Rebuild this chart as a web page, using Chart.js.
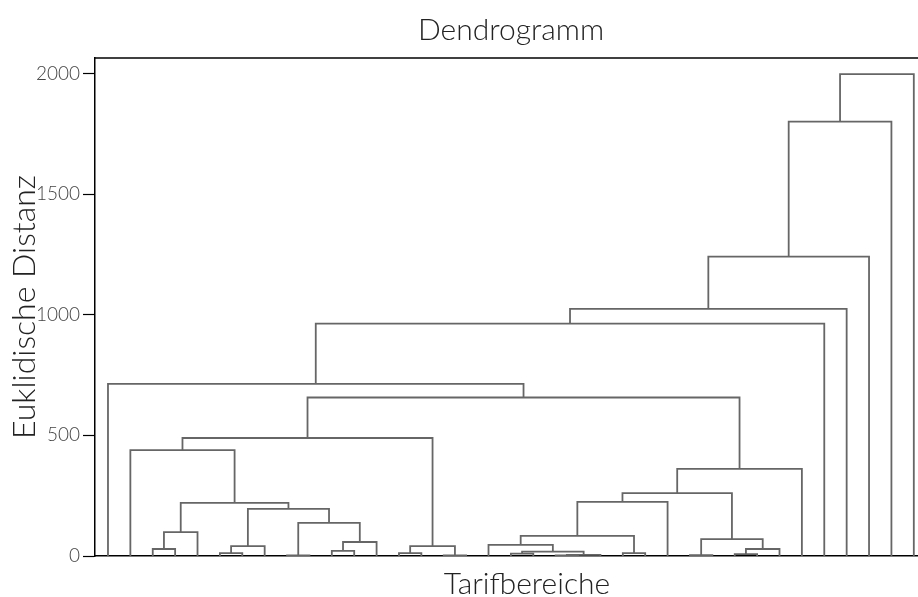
<!DOCTYPE html>
<html>
<head>
<meta charset="utf-8">
<title>Dendrogramm</title>
<script src="https://cdn.jsdelivr.net/npm/chart.js@4.4.0/dist/chart.umd.min.js"></script>
<style>
html, body { margin: 0; padding: 0; background: #fff; overflow: hidden; }
#wrap { width: 918px; height: 597px; overflow: hidden; }
canvas { display: block; }
</style>
</head>
<body>
<div id="wrap"><canvas id="chart" width="925" height="597"></canvas></div>
<script>
// Leaves are numbered 0..36 left to right; merged clusters get ids 37, 38, ...
const leafCount = 37;
const mergeLeft   = [2, 37, 5, 39, 8, 10, 42, 41, 40, 38, 1, 13, 15, 48, 47, 18, 20, 53, 52, 17, 23, 56, 58, 26, 28, 61, 60, 59, 64, 51, 0, 67, 68, 69, 70, 71];
const mergeRight  = [3, 4, 6, 7, 9, 11, 12, 43, 44, 45, 46, 14, 16, 49, 50, 19, 21, 22, 54, 55, 24, 57, 25, 27, 29, 30, 62, 63, 31, 65, 66, 32, 33, 34, 35, 36];
const mergeHeight = [29, 99, 12, 41, 3, 21, 58, 137, 195, 220, 439, 12, 3, 41, 489, 10, 2, 5, 18, 46, 12, 83, 224, 4, 8, 29, 70, 261, 361, 657, 713, 963, 1024, 1241, 1800, 1997];
const yTicks = [0, 500, 1000, 1500, 2000];

const lineColor = '#666666';
const fontFamily = 'Lato';

// position / height of every node, scipy style (leaf i sits at 5 + 10 i)
const nodeX = [];
const nodeH = [];
for (let i = 0; i < leafCount; i++) {
    nodeX.push(5 + 10 * i);
    nodeH.push(0);
}

const datasets = [];
for (let k = 0; k < mergeLeft.length; k++) {
    const a = mergeLeft[k], b = mergeRight[k], h = mergeHeight[k];
    datasets.push({
        data: [
            { x: nodeX[a], y: nodeH[a] },
            { x: nodeX[a], y: h },
            { x: nodeX[b], y: h },
            { x: nodeX[b], y: nodeH[b] }
        ],
        borderColor: lineColor,
        borderWidth: 1.8,
        pointRadius: 0,
        tension: 0,
        fill: false
    });
    nodeX.push((nodeX[a] + nodeX[b]) / 2);
    nodeH.push(h);
}

// titles and the top frame line
const frameAndTitle = {
    id: 'frameAndTitle',
    afterDraw(chart) {
        const { ctx, chartArea } = chart;
        const mid = (chartArea.left + chartArea.right) / 2;
        ctx.save();
        ctx.strokeStyle = '#000';
        ctx.lineWidth = 1.5;
        ctx.beginPath();
        ctx.moveTo(chartArea.left, chartArea.top);
        ctx.lineTo(chartArea.right, chartArea.top);
        ctx.stroke();
        ctx.fillStyle = '#222';
        ctx.textAlign = 'center';
        ctx.textBaseline = 'alphabetic';
        ctx.font = '300 30px ' + fontFamily;
        ctx.fillText('Dendrogramm', mid + 1, 40);
        ctx.fillText('Tarifbereiche', mid + 17, 594);
        ctx.restore();
    }
};

new Chart(document.getElementById('chart'), {
    type: 'line',
    data: { datasets: datasets },
    plugins: [frameAndTitle],
    options: {
        responsive: false,
        animation: false,
        layout: { padding: { top: 58, left: 0, right: 0, bottom: 0 } },
        plugins: {
            legend: { display: false },
            tooltip: { enabled: false }
        },
        scales: {
            x: {
                type: 'linear',
                min: -0.8,
                max: 370,
                ticks: { display: false },
                grid: { display: false },
                border: { display: true, color: '#000', width: 1.5 },
                afterFit(scale) { scale.height = 41; }
            },
            y: {
                type: 'linear',
                min: 0,
                max: 2064,
                afterBuildTicks(scale) {
                    scale.ticks = yTicks.map(v => ({ value: v }));
                },
                ticks: {
                    color: '#444',
                    padding: 3,
                    font: { family: fontFamily, size: 19, weight: '300' },
                    callback: v => String(v)
                },
                grid: {
                    drawOnChartArea: false,
                    tickLength: 12,
                    tickColor: '#000',
                    tickWidth: 1.2
                },
                border: { display: true, color: '#000', width: 1.5 },
                title: {
                    display: true,
                    text: 'Euklidische Distanz',
                    color: '#222',
                    font: { family: fontFamily, size: 32, weight: '300' },
                    padding: { top: 5, bottom: 0 }
                },
                afterFit(scale) { scale.width = 95; }
            }
        }
    }
});
</script>
</body>
</html>
